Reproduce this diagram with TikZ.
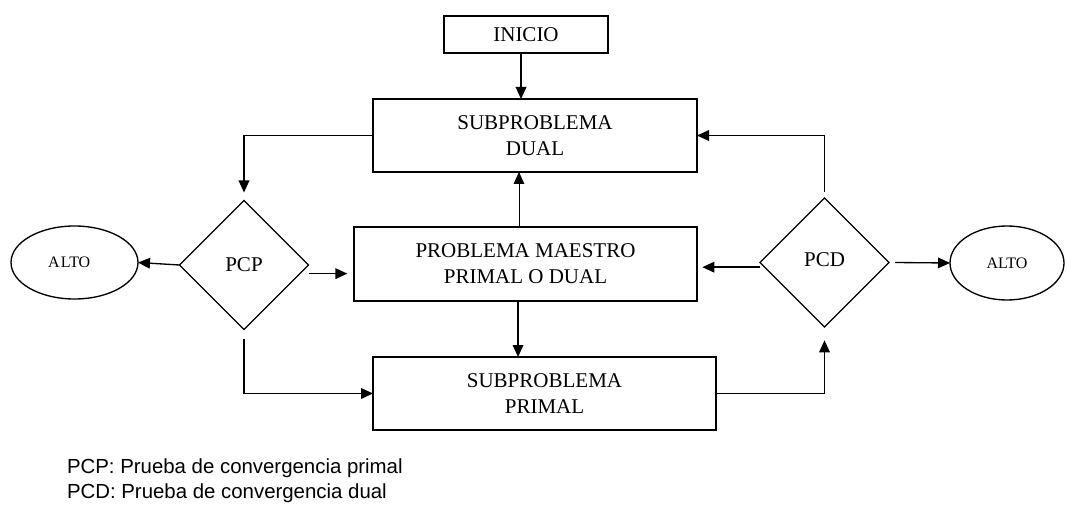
\documentclass[tikz,border=0pt]{standalone}
\usepackage{fontspec}
\setmainfont{Liberation Serif}
\newfontfamily\legendfont{Liberation Sans}
\usetikzlibrary{shapes.geometric,arrows.meta}
\begin{document}
\begin{tikzpicture}[x=0.75pt,y=-0.75pt,
  every node/.style={inner sep=0pt,outer sep=0pt},
  box/.style={draw,line width=1pt,rectangle,align=center,font=\fontsize{15.75}{19.5}\selectfont},
  decision/.style={draw,line width=1pt,diamond,aspect=1,minimum width=96.75pt,minimum height=96.75pt,font=\fontsize{15.75}{19.5}\selectfont},
  stopnode/.style={draw,line width=1pt,ellipse,font=\fontsize{12}{14}\selectfont},
  legend/.style={anchor=base west,font=\legendfont\fontsize{15.3}{18.75}\selectfont},
  arr/.style={line width=1pt,-{Triangle[length=9pt,width=8pt]}},
  thinarr/.style={line width=0.6pt,-{Triangle[length=9pt,width=8pt]}}]
\useasboundingbox (0,0) rectangle (1068,506);
\node[box,minimum width=123pt,minimum height=27.75pt] (ini) at (526,34.5) {INICIO};
\node[box,minimum width=243pt,minimum height=54.75pt] (dual) at (535,135.5) {SUBPROBLEMA\\DUAL};
\node[box,minimum width=257.25pt,minimum height=55.5pt] (mae) at (525.5,264) {PROBLEMA MAESTRO\\PRIMAL O DUAL};
\node[box,minimum width=257.25pt,minimum height=54.75pt] (pri) at (544.5,393.5) {SUBPROBLEMA\\PRIMAL};
\node[decision] (pcp) at (244,265) {PCP};
\node[decision] (pcd) at (824.5,262.5) {\raisebox{5pt}{PCD}};
\node[stopnode,minimum width=95.25pt,minimum height=54.75pt] (altoL) at (74.5,262.5) {\hspace*{-8pt}A\kern1pt LTO};
\node[stopnode,minimum width=85.5pt,minimum height=55.5pt] (altoR) at (1007,263) {ALTO};
\node[legend] (leg1) at (67,473) {PCP: Prueba de convergencia primal};
\node[legend] (leg2) at (67,498) {PCD: Prueba de convergencia dual};

\draw[arr] ([xshift=-3.75pt]ini.south) -- ([xshift=-3.75pt]ini.south |- dual.north);
\draw[thinarr] ([xshift=-4.9pt]mae.north) -- ([xshift=-4.9pt]mae.north |- dual.south);
\draw[arr] ([xshift=-5.6pt]mae.south) -- ([xshift=-5.6pt]mae.south |- pri.north);
\draw[arr] (dual.west) -| ([yshift=6pt]pcp.north);
\draw[arr] (pcp.west) -- (altoL.west -| altoL.east);
\draw[arr] ([yshift=-6.5pt]pcp.east) -- ([yshift=-6.5pt,xshift=-5pt]pcp.east -| mae.west);
\draw[arr] ([yshift=-7pt]pcp.south) |- (pri.west);
\draw[arr] (pri.east) -| ([yshift=-10pt]pcd.south);
\draw[arr] ([yshift=-3.5pt]pcd.west) -- ([yshift=-3.5pt,xshift=4pt]pcd.west -| mae.east);
\draw[arr] ([yshift=4.5pt]pcd.north) |- (dual.east);
\draw[arr] ([xshift=4.5pt]pcd.east) -- (altoR.west);
\end{tikzpicture}
\end{document}
